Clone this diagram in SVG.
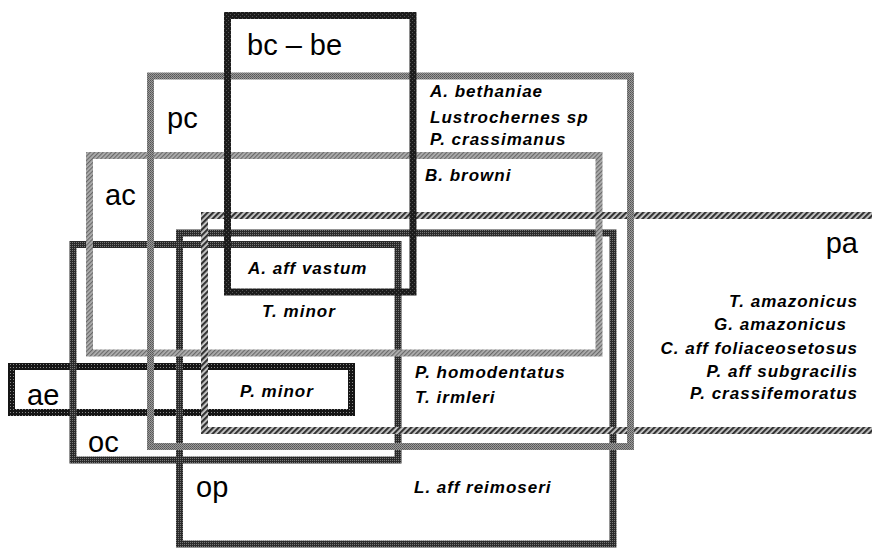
<svg xmlns="http://www.w3.org/2000/svg" width="872" height="548" viewBox="0 0 872 548">
<defs>
<pattern id="pBc" width="4" height="4" patternUnits="userSpaceOnUse"><rect width="4" height="4" fill="#1c1c1c"/><rect x="0" y="0" width="1" height="1" fill="#555"/><rect x="2" y="2" width="1" height="1" fill="#555"/></pattern>
<pattern id="pDark" width="2" height="2" patternUnits="userSpaceOnUse"><rect width="2" height="2" fill="#2a2a2a"/><rect x="0" y="0" width="1" height="1" fill="#777"/></pattern>
<pattern id="pAe" width="3" height="3" patternUnits="userSpaceOnUse"><rect width="3" height="3" fill="#151515"/><rect x="1" y="1" width="1" height="1" fill="#888"/></pattern>
<pattern id="pGrey" width="2" height="2" patternUnits="userSpaceOnUse"><rect width="2" height="2" fill="#9a9a9a"/><rect x="0" y="0" width="1" height="1" fill="#555"/><rect x="1" y="1" width="1" height="1" fill="#666"/></pattern>
<pattern id="pAc" width="3" height="3" patternUnits="userSpaceOnUse" patternTransform="rotate(45)"><rect width="3" height="3" fill="#b0b0b0"/><rect width="1.2" height="3" fill="#6a6a6a"/></pattern>
<pattern id="pPa" width="4" height="4" patternUnits="userSpaceOnUse" patternTransform="rotate(45)"><rect width="4" height="4" fill="#d0d0d0"/><rect width="2.2" height="4" fill="#333"/></pattern>
</defs>
<style>
.box{fill:none;stroke-width:7}
.lbl{font-family:"Liberation Sans",Arial,sans-serif;font-size:29px;fill:#000}
.sp{font-family:"Liberation Sans",Arial,sans-serif;font-size:17px;font-weight:bold;font-style:italic;letter-spacing:1px;fill:#000}
.r{text-anchor:end}
</style>
<g id="ae"><rect class="box" x="11.5" y="366.5" width="340" height="46" stroke="url(#pAe)"/><text class="lbl" x="27" y="405">ae</text></g>
<g id="oc"><rect class="box" x="73" y="244.5" width="325" height="215.5" stroke="url(#pDark)"/><text class="lbl" x="88" y="452">oc</text></g>
<g id="op"><rect class="box" x="179.5" y="233" width="433.5" height="311" stroke="url(#pDark)"/><text class="lbl" x="196" y="497">op</text></g>
<g id="ac"><rect class="box" x="89.5" y="155.5" width="509.5" height="197.5" stroke="url(#pAc)"/><text class="lbl" x="105" y="205">ac</text></g>
<g id="pa"><rect class="box" x="204.5" y="215.5" width="700" height="215" stroke="url(#pPa)"/><text class="lbl r" x="858" y="253">pa</text></g>
<g id="pc"><rect class="box" x="150.5" y="76" width="480" height="370.5" stroke="url(#pGrey)"/><text class="lbl" x="167" y="128">pc</text></g>
<g id="bcbe"><rect class="box" x="227.5" y="15.5" width="185.5" height="276.5" stroke="url(#pBc)"/><text class="lbl" x="247" y="55">bc – be</text></g>
<g id="species">
<text class="sp" x="430" y="97">A. bethaniae</text>
<text class="sp" x="430" y="123">Lustrochernes sp</text>
<text class="sp" x="430" y="145">P. crassimanus</text>
<text class="sp" x="425" y="181">B. browni</text>
<text class="sp" x="248" y="274">A. aff vastum</text>
<text class="sp" x="262" y="317">T. minor</text>
<text class="sp" x="240" y="397">P. minor</text>
<text class="sp" x="415" y="378">P. homodentatus</text>
<text class="sp" x="415" y="403">T. irmleri</text>
<text class="sp" x="414" y="493">L. aff reimoseri</text>
<text class="sp r" x="858" y="307">T. amazonicus</text>
<text class="sp r" x="847" y="330">G. amazonicus</text>
<text class="sp r" x="858" y="354">C. aff foliaceosetosus</text>
<text class="sp r" x="858" y="377">P. aff subgracilis</text>
<text class="sp r" x="858" y="399">P. crassifemoratus</text>
</g>
<g id="connectors"/>
</svg>
